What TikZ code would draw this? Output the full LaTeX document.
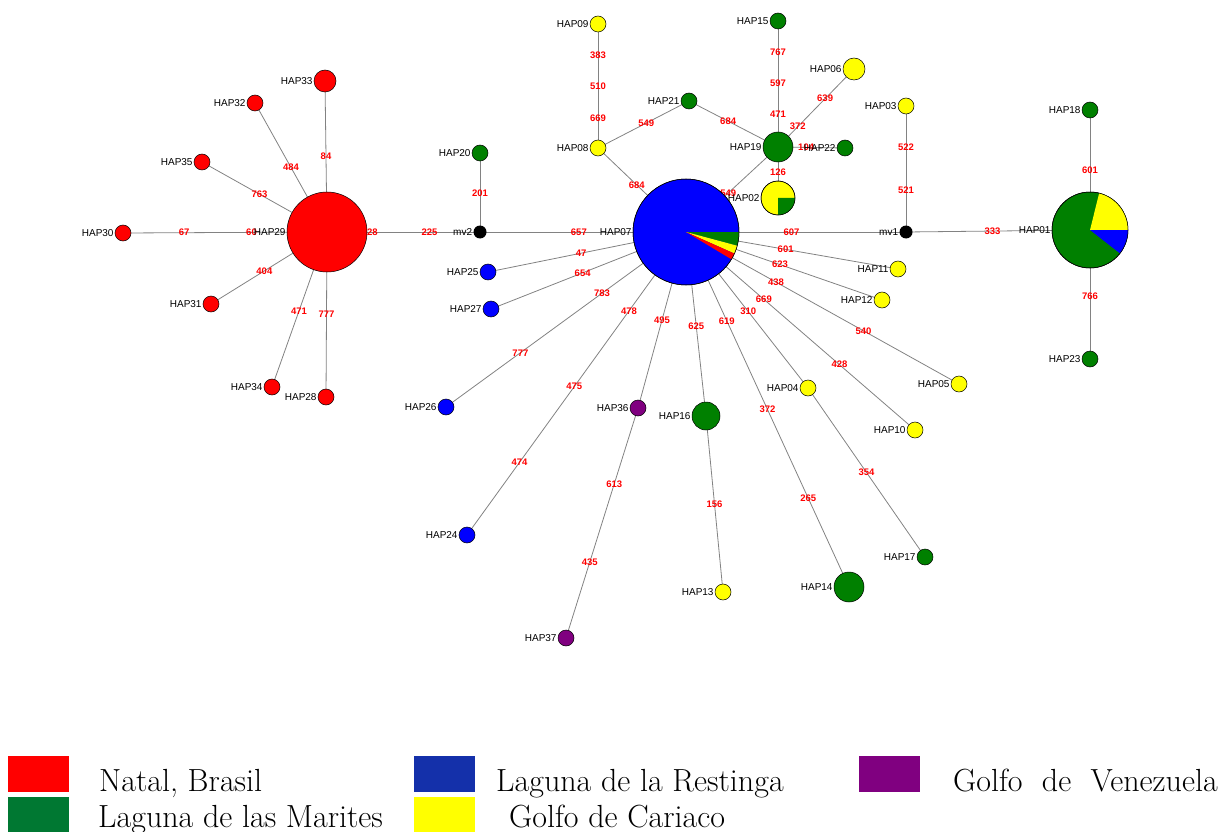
\documentclass[tikz,border=0pt]{standalone}
\usepackage{fontspec}
\newfontfamily\arial{Liberation Sans}

\definecolor{hred}{RGB}{255,0,0}
\definecolor{hblue}{RGB}{0,0,255}
\definecolor{hgreen}{RGB}{0,128,0}
\definecolor{hyellow}{RGB}{255,255,0}
\definecolor{hpurple}{RGB}{128,0,128}
\definecolor{edgegray}{RGB}{130,130,130}
\definecolor{lgreen}{RGB}{0,120,50}
\definecolor{lblue}{RGB}{20,48,170}

\pgfdeclarelayer{bg}
\pgfsetlayers{bg,main}

\tikzset{
  hap/.style={circle, draw=black, line width=0.5pt, inner sep=0pt, minimum size=16pt},
  mv/.style={circle, fill=black, inner sep=0pt, minimum size=13pt},
  edge/.style={draw=edgegray, line width=0.8pt},
  mut/.style={text=red, inner sep=0pt, font=\arial\bfseries\fontsize{9.5}{10}\selectfont},
  every label/.style={inner sep=1pt, font=\arial\fontsize{10}{12}\selectfont},
  sq/.style={inner sep=0pt, minimum width=61pt, minimum height=36pt},
  legtext/.style={anchor=base west, inner sep=0pt, font=\fontsize{32}{36}\selectfont}
}

\begin{document}
\begin{tikzpicture}[x=1pt, y=-1pt]
  \useasboundingbox (0,0) rectangle (1227,832);

  % Natal group
  \node[hap, fill=hred, minimum size=80pt, label=left:HAP29] (hap29) at (327,232) {};
  \node[hap, fill=hred, minimum size=22pt, label=left:HAP33] (hap33) at (325,81) {};
  \node[hap, fill=hred, label=left:HAP32] (hap32) at (255,103) {};
  \node[hap, fill=hred, label=left:HAP35] (hap35) at (202,162) {};
  \node[hap, fill=hred, label=left:HAP30] (hap30) at (123,233) {};
  \node[hap, fill=hred, label=left:HAP31] (hap31) at (211,304) {};
  \node[hap, fill=hred, label=left:HAP34] (hap34) at (272,387) {};
  \node[hap, fill=hred, label=left:HAP28] (hap28) at (326,397) {};

  \node[mv, label=left:mv2] (mv2) at (480,232) {};
  \node[hap, fill=hgreen, label=left:HAP20] (hap20) at (480,153) {};

  % central haplotype
  \node[hap, fill=hblue, minimum size=106pt, label=left:HAP07] (hap07) at (686,232) {};
  \node[hap, fill=hblue, label=left:HAP25] (hap25) at (488,272) {};
  \node[hap, fill=hblue, label=left:HAP27] (hap27) at (491,309) {};
  \node[hap, fill=hblue, label=left:HAP26] (hap26) at (446,407) {};
  \node[hap, fill=hblue, label=left:HAP24] (hap24) at (467,535) {};
  \node[hap, fill=hpurple, label=left:HAP36] (hap36) at (638,408) {};
  \node[hap, fill=hpurple, label=left:HAP37] (hap37) at (566,638) {};
  \node[hap, fill=hgreen, minimum size=28pt, label=left:HAP16] (hap16) at (706,416) {};
  \node[hap, fill=hyellow, label=left:HAP13] (hap13) at (723,592) {};
  \node[hap, fill=hgreen, minimum size=30pt, label=left:HAP14] (hap14) at (849,587) {};
  \node[hap, fill=hyellow, label=left:HAP04] (hap04) at (808,388) {};
  \node[hap, fill=hgreen, label=left:HAP17] (hap17) at (925,557) {};
  \node[hap, fill=hyellow, label=left:HAP10] (hap10) at (915,430) {};
  \node[hap, fill=hyellow, label=left:HAP05] (hap05) at (959,384) {};
  \node[hap, fill=hyellow, label=left:HAP12] (hap12) at (882,300) {};
  \node[hap, fill=hyellow, label=left:HAP11] (hap11) at (898,269) {};

  \node[mv, label=left:mv1] (mv1) at (906,232) {};
  \node[hap, fill=hyellow, label=left:HAP03] (hap03) at (906,106) {};
  \node[hap, fill=hgreen, minimum size=76pt, label=left:HAP01] (hap01) at (1090,230) {};
  \node[hap, fill=hgreen, label=left:HAP18] (hap18) at (1090,110) {};
  \node[hap, fill=hgreen, label=left:HAP23] (hap23) at (1090,359) {};

  % upper branch
  \node[hap, fill=hgreen, minimum size=30pt, label=left:HAP19] (hap19) at (778,147) {};
  \node[hap, fill=hgreen, label=left:HAP22] (hap22) at (845,148) {};
  \node[hap, fill=hyellow, minimum size=34pt, label=left:HAP02] (hap02) at (778,198) {};
  \node[hap, fill=hgreen, label=left:HAP15] (hap15) at (778,21) {};
  \node[hap, fill=hyellow, minimum size=22pt, label=left:HAP06] (hap06) at (854,69) {};
  \node[hap, fill=hgreen, label=left:HAP21] (hap21) at (689,101) {};
  \node[hap, fill=hyellow, label=left:HAP08] (hap08) at (598,148) {};
  \node[hap, fill=hyellow, label=left:HAP09] (hap09) at (598,24) {};

  % pie slices
  \fill[hgreen] (hap07.center) -- ++(0:53) arc[start angle=0, end angle=15, radius=53] -- cycle;
  \fill[hyellow] (hap07.center) -- ++(15:53) arc[start angle=15, end angle=24, radius=53] -- cycle;
  \fill[hred] (hap07.center) -- ++(24:53) arc[start angle=24, end angle=31, radius=53] -- cycle;
  \draw[line width=0.5pt] (hap07.center) circle[radius=53];
  \fill[hyellow] (hap01.center) -- ++(-76:38) arc[start angle=-76, end angle=0, radius=38] -- cycle;
  \fill[hblue] (hap01.center) -- ++(0:38) arc[start angle=0, end angle=38, radius=38] -- cycle;
  \draw[line width=0.5pt] (hap01.center) circle[radius=38];
  \fill[hgreen] (hap02.center) -- ++(0:17) arc[start angle=0, end angle=90, radius=17] -- cycle;
  \draw[line width=0.5pt] (hap02.center) circle[radius=17];

  \begin{pgfonlayer}{bg}
    \draw[edge] (hap29.center) -- node[mut, pos=0.5]{84} (hap33.center);
    \draw[edge] (hap29.center) -- node[mut, pos=0.5]{484} (hap32.center);
    \draw[edge] (hap29.center) -- node[mut, pos=0.54]{763} (hap35.center);
    \draw[edge] (hap29.center) -- node[mut, pos=0.37]{60} node[mut, pos=0.7]{67} (hap30.center);
    \draw[edge] (hap29.center) -- node[mut, pos=0.54]{404} (hap31.center);
    \draw[edge] (hap29.center) -- node[mut, pos=0.51]{471} (hap34.center);
    \draw[edge] (hap29.center) -- node[mut, pos=0.5]{777} (hap28.center);
    \draw[edge] (hap29.center) -- node[mut, pos=0.28]{228} node[mut, pos=0.67]{225} (mv2.center);
    \draw[edge] (mv2.center) -- node[mut, pos=0.49]{201} (hap20.center);
    \draw[edge] (hap07.center) -- node[mut, pos=0.52]{657} (mv2.center);
    \draw[edge] (hap07.center) -- node[mut, pos=0.53]{47} (hap25.center);
    \draw[edge] (hap07.center) -- node[mut, pos=0.53]{654} (hap27.center);
    \draw[edge] (hap07.center) -- node[mut, pos=0.35]{783} node[mut, pos=0.69]{777} (hap26.center);
    \draw[edge] (hap07.center) -- node[mut, pos=0.26]{478} node[mut, pos=0.51]{475} node[mut, pos=0.76]{474} (hap24.center);
    \draw[edge] (hap07.center) -- node[mut, pos=0.5]{495} (hap36.center);
    \draw[edge] (hap36.center) -- node[mut, pos=0.33]{613} node[mut, pos=0.67]{435} (hap37.center);
    \draw[edge] (hap07.center) -- node[mut, pos=0.51]{625} (hap16.center);
    \draw[edge] (hap16.center) -- node[mut, pos=0.5]{156} (hap13.center);
    \draw[edge] (hap07.center) -- node[mut, pos=0.25]{619} node[mut, pos=0.5]{372} node[mut, pos=0.75]{265} (hap14.center);
    \draw[edge] (hap07.center) -- node[mut, pos=0.51]{310} (hap04.center);
    \draw[edge] (hap04.center) -- node[mut, pos=0.5]{354} (hap17.center);
    \draw[edge] (hap07.center) -- node[mut, pos=0.34]{669} node[mut, pos=0.67]{428} (hap10.center);
    \draw[edge] (hap07.center) -- node[mut, pos=0.33]{438} node[mut, pos=0.65]{540} (hap05.center);
    \draw[edge] (hap07.center) -- node[mut, pos=0.48]{623} (hap12.center);
    \draw[edge] (hap07.center) -- node[mut, pos=0.47]{601} (hap11.center);
    \draw[edge] (hap07.center) -- node[mut, pos=0.48]{607} (mv1.center);
    \draw[edge] (mv1.center) -- node[mut, pos=0.33]{521} node[mut, pos=0.67]{522} (hap03.center);
    \draw[edge] (mv1.center) -- node[mut, pos=0.47]{333} (hap01.center);
    \draw[edge] (hap01.center) -- node[mut, pos=0.5]{601} (hap18.center);
    \draw[edge] (hap01.center) -- node[mut, pos=0.51]{766} (hap23.center);
    \draw[edge] (hap07.center) -- node[mut, pos=0.56]{684} (hap08.center);
    \draw[edge] (hap08.center) -- node[mut, pos=0.24]{669} node[mut, pos=0.5]{510} node[mut, pos=0.75]{383} (hap09.center);
    \draw[edge] (hap08.center) -- node[mut, pos=0.53]{549} (hap21.center);
    \draw[edge] (hap21.center) -- node[mut, pos=0.44]{684} (hap19.center);
    \draw[edge] (hap07.center) -- node[mut, pos=0.46]{549} (hap19.center);
    \draw[edge] (hap19.center) -- node[mut, pos=0.26]{471} node[mut, pos=0.51]{597} node[mut, pos=0.75]{767} (hap15.center);
    \draw[edge] (hap19.center) -- node[mut, pos=0.26]{372} node[mut, pos=0.62]{639} (hap06.center);
    \draw[edge] (hap19.center) -- node[mut, pos=0.42]{104} (hap22.center);
    \draw[edge] (hap19.center) -- node[mut, pos=0.5]{126} (hap02.center);
  \end{pgfonlayer}

  % legend
  \node[sq, fill=hred] (sqred) at (38.5,774) {};
  \node[sq, fill=lgreen] (sqgreen) at (38.5,815) {};
  \node[sq, fill=lblue] (sqblue) at (444,774) {};
  \node[sq, fill=hyellow] (sqyellow) at (444,815) {};
  \node[sq, fill=hpurple] (sqpurple) at (889,774) {};
  \node[legtext] (lnatal) at (99,791) {Natal, Brasil};
  \node[legtext] (lmarites) at (98,827) {Laguna de las Marites};
  \node[legtext] (lrestinga) at (496,791) {Laguna de la Restinga};
  \node[legtext] (lcariaco) at (509,827) {Golfo de Cariaco};
  \node[legtext] (lvenezuela) at (953,791) {Golfo~ de~ Venezuela};
\end{tikzpicture}
\end{document}
